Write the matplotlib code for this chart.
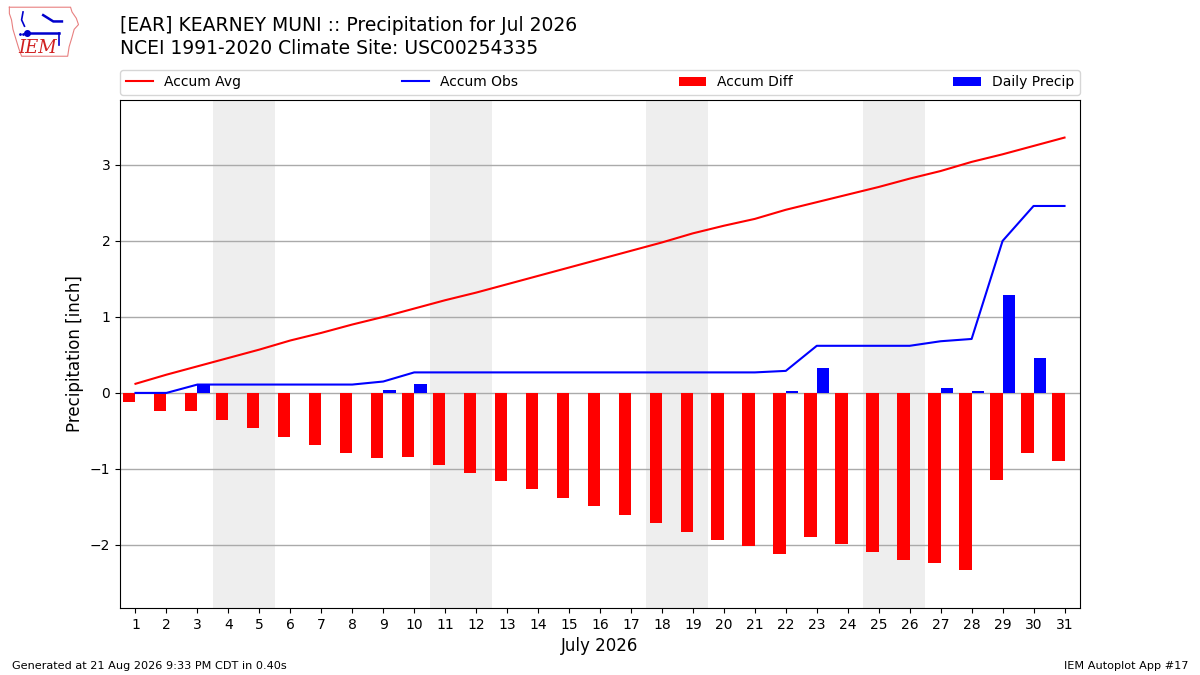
import numpy as np
import matplotlib
matplotlib.use("Agg")
import matplotlib.pyplot as plt

# July 2026, values
days = list(range(1, 32))
daily_precip = [0.00, 0.00, 0.11, 0.00, 0.00, 0.00, 0.00, 0.00, 0.04, 0.12,
                0.00, 0.00, 0.00, 0.00, 0.00, 0.00, 0.00, 0.00, 0.00, 0.00,
                0.00, 0.02, 0.33, 0.00, 0.00, 0.00, 0.06, 0.03, 1.29, 0.46,
                0.00]
accum_avg = [0.12, 0.24, 0.35, 0.46, 0.57, 0.69, 0.79, 0.90, 1.00, 1.11,
             1.22, 1.32, 1.43, 1.54, 1.65, 1.76, 1.87, 1.98, 2.10, 2.20,
             2.29, 2.41, 2.51, 2.61, 2.71, 2.82, 2.92, 3.04, 3.14, 3.25,
             3.36]
weekends = [(4, 5), (11, 12), (18, 19), (25, 26)]

accum_obs = np.cumsum(daily_precip)
accum_diff = accum_obs - np.array(accum_avg)

fig = plt.figure(figsize=(12, 6.75), dpi=100)
ax = fig.add_axes([0.1, 0.0993, 0.8, 0.7526])

for start, end in weekends:
    ax.axvspan(start - 0.5, end + 0.5, color="#eeeeee", zorder=0, lw=0)

ax.plot(days, accum_avg, color="r", lw=1.5, label="Accum Avg", zorder=3)
ax.plot(days, accum_obs, color="b", lw=1.5, label="Accum Obs", zorder=3)
ax.bar(days, accum_diff, width=-0.4, align="edge", color="r",
       label="Accum Diff", zorder=2)
ax.bar(days, daily_precip, width=0.4, align="edge", color="b",
       label="Daily Precip", zorder=2)

ax.set_xlim(0.5, 31.5)
ax.set_ylim(-2.83, 3.855)
ax.set_xticks(days)
ax.set_yticks([-2, -1, 0, 1, 2, 3])
ax.grid(axis="y", color="#aaaaaa", lw=1, zorder=1)
ax.set_axisbelow(True)
ax.tick_params(labelsize=10)
ax.set_ylabel("Precipitation [inch]", fontsize=12)
ax.set_xlabel("July 2026", fontsize=12)

ax.legend(loc="lower left", bbox_to_anchor=(0, 1.01, 1, 0.05), ncol=4,
          mode="expand", borderaxespad=0, fontsize=10)

fig.text(0.1, 0.977, "[EAR] KEARNEY MUNI :: Precipitation for Jul 2026\n"
         "NCEI 1991-2020 Climate Site: USC00254335",
         fontsize=13.5, va="top", ha="left", linespacing=1.3)

fig.text(0.01, 0.006, "Generated at 21 Aug 2026 9:33 PM CDT in 0.40s",
         fontsize=8.1, ha="left", va="bottom")
fig.text(0.99, 0.006, "IEM Autoplot App #17", fontsize=8.1,
         ha="right", va="bottom")

# rough IEM logo
lax = fig.add_axes([0.006, 0.912, 0.06, 0.082])
lax.axis("off")
lax.set_xlim(0, 100)
lax.set_ylim(0, 70)
ox = [3, 88, 90, 96, 99, 93, 90, 86, 84, 20, 16, 12, 8, 6, 3, 3]
oy = [66, 66, 60, 52, 44, 38, 28, 16, 4, 4, 14, 26, 38, 50, 58, 66]
lax.plot(ox, oy, color="#e88080", lw=0.8)
lax.text(16, 8, "IEM", color="#d02020", fontsize=13, family="DejaVu Serif",
         style="italic")
lax.plot([28, 72], [34, 34], color="#0000cc", lw=1.8)
lax.plot([28], [34], "o", color="#0000cc", ms=4)
lax.plot([22, 20, 24], [60, 50, 42], color="#0000cc", lw=1.2)
lax.plot([50, 64, 76], [56, 48, 48], color="#0000cc", lw=1.8)
lax.plot([72, 72], [34, 18], color="#0000cc", lw=1.2)
lax.plot([18, 22], [32, 32], ".", color="#0000cc", ms=2)

fig.savefig("out.png", dpi=100)
